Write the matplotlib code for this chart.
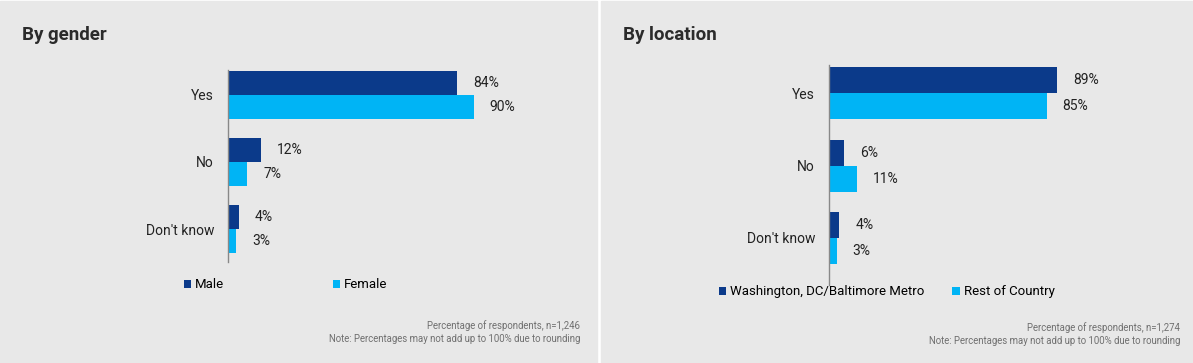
import matplotlib.pyplot as plt
from matplotlib.patches import Rectangle

plt.rcParams['font.family'] = ['Roboto', 'DejaVu Sans']

answers = ["Yes", "No", "Don't know"]

gender_series = ["Male", "Female"]
gender_male = [84, 12, 4]
gender_female = [90, 7, 3]

location_series = ["Washington, DC/Baltimore Metro", "Rest of Country"]
location_metro = [89, 6, 4]
location_rest = [85, 11, 3]

titles = ["By gender", "By location"]
footers = ["Percentage of respondents, n=1,246", "Percentage of respondents, n=1,274"]
note = "Note: Percentages may not add up to 100% due to rounding"

dark = "#0b3a8a"
light = "#00b4f5"
panel_bg = "#e8e8e8"

W, H = 1193, 363
fig = plt.figure(figsize=(W / 100, H / 100), dpi=100)
fig.patch.set_facecolor("white")


def px(x, y):
    # pixel (from top-left) -> figure fraction
    return x / W, 1 - y / H


# gray panels
for x0, x1 in [(0, 597), (601, 1193)]:
    fig.patches.append(Rectangle((x0 / W, 0), (x1 - x0) / W, 1 - 1 / H,
                                 transform=fig.transFigure, color=panel_bg, zorder=-10))


def panel(ax_box, ylim, xmax, series, vals1, vals2, bh, title_xy, title,
          leg_xy, colspace, foot_x, foot_y, footer):
    x0, y0, x1, y1 = ax_box
    ax = fig.add_axes([x0 / W, 1 - y1 / H, (x1 - x0) / W, (y1 - y0) / H])
    ax.set_facecolor("none")
    pos = list(range(len(answers)))
    b1 = ax.barh([p - bh / 2 for p in pos], vals1, height=bh, color=dark, label=series[0])
    b2 = ax.barh([p + bh / 2 for p in pos], vals2, height=bh, color=light, label=series[1])
    for bars, vals in [(b1, vals1), (b2, vals2)]:
        for rect, v in zip(bars, vals):
            ax.annotate(f"{v}%", (rect.get_width(), rect.get_y() + rect.get_height() / 2),
                        xytext=(11.5, 0), textcoords="offset points",
                        va="center", ha="left", fontsize=10, color="#222222")
    ax.set_xlim(0, xmax)
    ax.set_ylim(*ylim)
    ax.set_yticks(pos)
    ax.set_yticklabels(answers, fontsize=10, color="#222222")
    ax.tick_params(axis="y", length=0, pad=10)
    ax.set_xticks([])
    for s in ["top", "right", "bottom"]:
        ax.spines[s].set_visible(False)
    ax.spines["left"].set_color("#888888")
    ax.spines["left"].set_linewidth(1)

    fig.text(*px(*title_xy), title, fontsize=13.5, fontweight="bold",
             color="#2b2b2b", va="center", ha="left")
    fig.legend(handles=[b1, b2], loc="center left", bbox_to_anchor=px(*leg_xy),
               ncol=2, frameon=False, fontsize=9.5, handlelength=0.55, handleheight=0.55,
               handletextpad=0.3, columnspacing=colspace, borderpad=0, borderaxespad=0)
    fig.text(*px(foot_x, foot_y), footer, fontsize=6.9, color="#707070",
             ha="right", va="center")
    fig.text(*px(foot_x, foot_y + 13), note, fontsize=6.9, color="#707070",
             ha="right", va="center")
    return ax


panel((228, 70, 228 + 273, 262), (2.49, -0.37), 100, gender_series,
      gender_male, gender_female, 0.36, (22, 35), titles[0],
      (184, 285), 8.2, 580, 326, footers[0])

panel((829, 65, 829 + 256, 285), (2.65, -0.39), 100, location_series,
      location_metro, location_rest, 0.36, (623, 35), titles[1],
      (719, 292), 2.1, 1180, 328, footers[1])

fig.savefig("out.png", dpi=100, facecolor="white")
